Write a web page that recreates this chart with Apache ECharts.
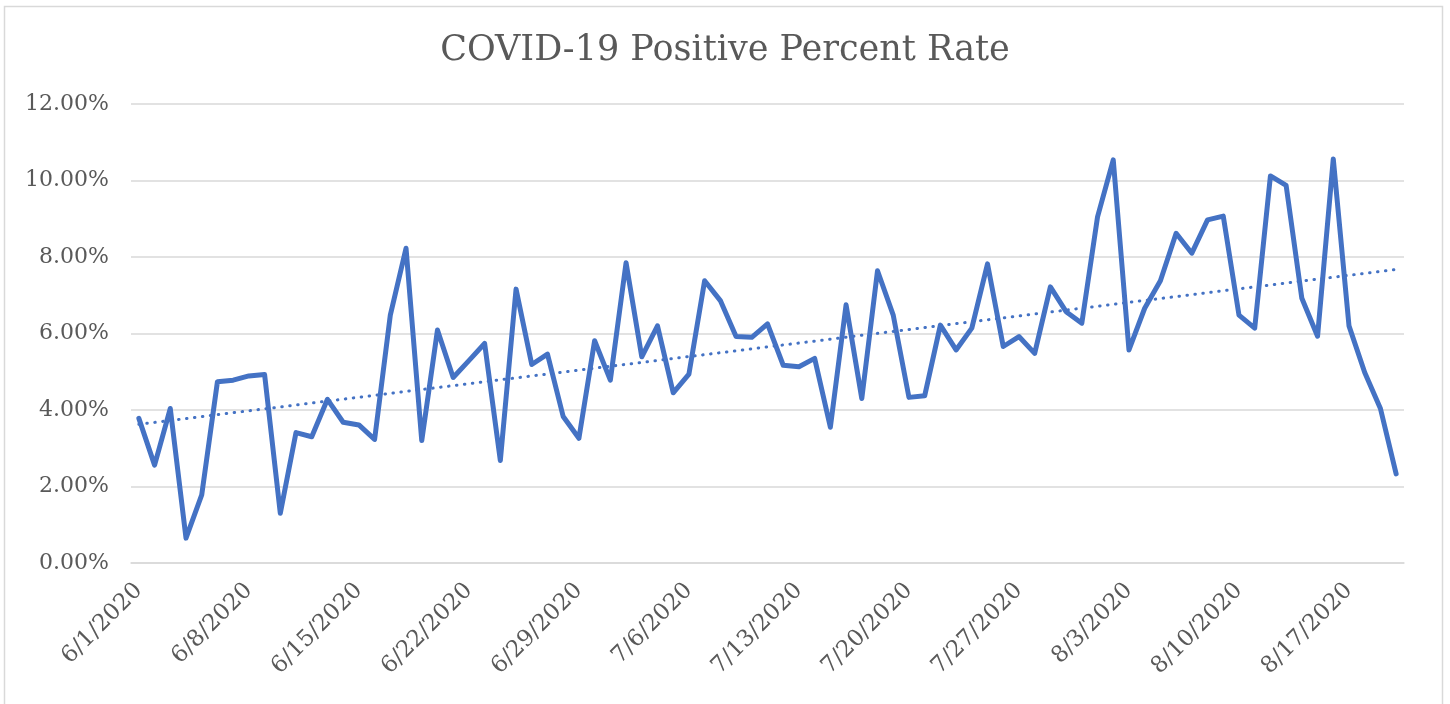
<!DOCTYPE html>
<html>
<head>
<meta charset="utf-8">
<title>COVID-19 Positive Percent Rate</title>
<script src="https://cdn.jsdelivr.net/npm/echarts@6/dist/echarts.min.js"></script>
<style>
  html, body { margin: 0; padding: 0; background: #fff; }
  #chart { width: 1450px; height: 704px; }
</style>
</head>
<body>
<div id="chart"></div>
<script>
// dates (x categories)
const dates = [
  '6/1/2020', '6/2/2020', '6/3/2020', '6/4/2020', '6/5/2020', '6/6/2020', '6/7/2020',
  '6/8/2020', '6/9/2020', '6/10/2020', '6/11/2020', '6/12/2020', '6/13/2020', '6/14/2020',
  '6/15/2020', '6/16/2020', '6/17/2020', '6/18/2020', '6/19/2020', '6/20/2020', '6/21/2020',
  '6/22/2020', '6/23/2020', '6/24/2020', '6/25/2020', '6/26/2020', '6/27/2020', '6/28/2020',
  '6/29/2020', '6/30/2020', '7/1/2020', '7/2/2020', '7/3/2020', '7/4/2020', '7/5/2020',
  '7/6/2020', '7/7/2020', '7/8/2020', '7/9/2020', '7/10/2020', '7/11/2020', '7/12/2020',
  '7/13/2020', '7/14/2020', '7/15/2020', '7/16/2020', '7/17/2020', '7/18/2020', '7/19/2020',
  '7/20/2020', '7/21/2020', '7/22/2020', '7/23/2020', '7/24/2020', '7/25/2020', '7/26/2020',
  '7/27/2020', '7/28/2020', '7/29/2020', '7/30/2020', '7/31/2020', '8/1/2020', '8/2/2020',
  '8/3/2020', '8/4/2020', '8/5/2020', '8/6/2020', '8/7/2020', '8/8/2020', '8/9/2020',
  '8/10/2020', '8/11/2020', '8/12/2020', '8/13/2020', '8/14/2020', '8/15/2020', '8/16/2020',
  '8/17/2020', '8/18/2020', '8/19/2020', '8/20/2020'
];

// positive rate, in percent
const positiveRate = [
  3.78, 2.56, 4.04, 0.65, 1.78, 4.74, 4.78,
  4.89, 4.93, 1.30, 3.41, 3.30, 4.28, 3.68,
  3.61, 3.23, 6.48, 8.23, 3.20, 6.09, 4.85,
  5.29, 5.74, 2.68, 7.16, 5.19, 5.46, 3.83,
  3.26, 5.81, 4.78, 7.85, 5.39, 6.20, 4.45,
  4.94, 7.38, 6.86, 5.92, 5.90, 6.25, 5.17,
  5.13, 5.35, 3.55, 6.75, 4.30, 7.64, 6.48,
  4.33, 4.37, 6.22, 5.57, 6.14, 7.82, 5.66,
  5.92, 5.48, 7.22, 6.57, 6.27, 9.05, 10.54,
  5.57, 6.66, 7.38, 8.62, 8.10, 8.97, 9.07,
  6.48, 6.14, 10.12, 9.87, 6.92, 5.93, 10.56,
  6.20, 4.98, 4.04, 2.33
];

// linear trend line (least squares, like Excel's trendline)
function linearTrend(vals) {
  const n = vals.length;
  let sx = 0, sy = 0, sxy = 0, sxx = 0;
  vals.forEach((v, i) => { sx += i; sy += v; sxy += i * v; sxx += i * i; });
  const slope = (n * sxy - sx * sy) / (n * sxx - sx * sx);
  const icpt = (sy - slope * sx) / n;
  return vals.map((v, i) => +(icpt + slope * i).toFixed(4));
}
const trend = linearTrend(positiveRate);

const textColor = '#595959';
const gridColor = '#d9d9d9';
const lineColor = '#4472c4';
const font = '"DejaVu Serif", "Liberation Serif", serif';

const chart = echarts.init(document.getElementById('chart'));
const option = {
  animation: false,
  backgroundColor: '#fff',
  title: {
    text: 'COVID-19 Positive Percent Rate',
    left: 'center',
    top: 28,
    textStyle: {
      color: textColor,
      fontFamily: font,
      fontSize: 35,
      fontWeight: 'normal'
    }
  },
  graphic: [{
    type: 'rect',
    shape: { x: 4.5, y: 6.5, width: 1438, height: 710 },
    style: { fill: 'none', stroke: gridColor, lineWidth: 1.5 },
    silent: true
  }],
  grid: {
    left: 131,
    right: 46,
    top: 104,
    bottom: 141
  },
  xAxis: {
    type: 'category',
    data: dates,
    boundaryGap: true,
    axisLine: { lineStyle: { color: gridColor, width: 1.5 } },
    axisTick: { show: false },
    axisLabel: {
      interval: 6,
      rotate: 45,
      margin: 24,
      color: textColor,
      fontFamily: font,
      fontSize: 23
    }
  },
  yAxis: {
    type: 'value',
    min: 0,
    max: 12,
    interval: 2,
    axisLine: { show: false },
    axisTick: { show: false },
    splitLine: { lineStyle: { color: gridColor, width: 1.5 } },
    axisLabel: {
      margin: 22,
      color: textColor,
      fontFamily: font,
      fontSize: 22,
      formatter: v => v.toFixed(2) + '%'
    }
  },
  series: [
    {
      name: 'Positive Rate',
      type: 'line',
      data: positiveRate,
      showSymbol: false,
      lineStyle: { color: lineColor, width: 5, join: 'round', cap: 'round' },
      z: 3
    },
    {
      name: 'Linear (Positive Rate)',
      type: 'line',
      data: trend,
      showSymbol: false,
      lineStyle: { color: lineColor, width: 3, type: [0.5, 7.5], cap: 'round' },
      z: 2
    }
  ]
};
chart.setOption(option);
window.onresize = () => {
  chart.resize();
};
</script>
</body>
</html>
